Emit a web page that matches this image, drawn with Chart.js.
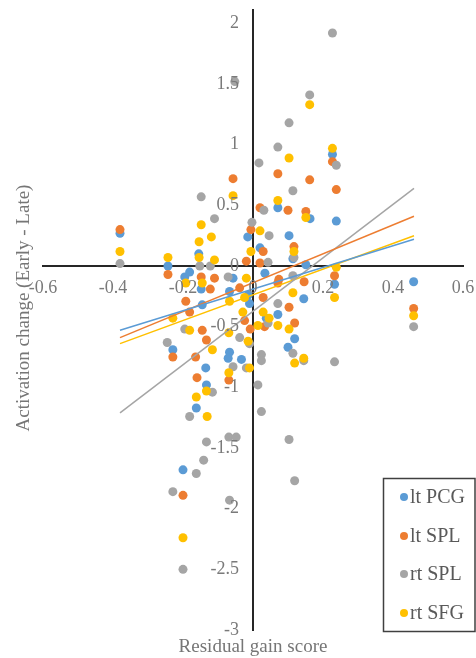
<!DOCTYPE html>
<html>
<head>
<meta charset="utf-8">
<script src="https://cdn.jsdelivr.net/npm/chart.js@4/dist/chart.umd.min.js"></script>
<style>
  html, body { margin: 0; padding: 0; background: #fff; }
  #wrap { position: relative; width: 476px; height: 658px; }
</style>
</head>
<body>
<div id="wrap"><canvas id="chart" width="476" height="658"></canvas></div>
<script>
// series labels
const seriesNames = ["lt PCG", "lt SPL", "rt SPL", "rt SFG"];
const seriesColors = ["#5B9BD5", "#ED7D31", "#A5A5A5", "#FFC000"];

// [residual gain score, activation change]
const ltPCG = [
  [-0.38, 0.27], [-0.243, 0.0], [-0.195, -0.09], [-0.181, -0.05], [-0.155, 0.10],
  [-0.148, -0.19], [-0.145, -0.32], [-0.229, -0.69], [-0.135, -0.84], [-0.133, -0.98],
  [-0.162, -1.17], [-0.2, -1.68], [-0.067, -0.21], [-0.067, -0.71], [-0.071, -0.76],
  [-0.033, -0.77], [-0.057, -0.10], [-0.015, 0.24], [-0.014, -0.24], [-0.01, -0.31],
  [0.02, 0.15], [0.034, -0.06], [0.038, -0.43], [0.071, 0.48], [0.071, -0.40],
  [0.103, 0.25], [0.10, -0.67], [0.119, -0.60], [0.114, 0.06], [0.145, -0.27],
  [0.151, 0.01], [0.163, 0.39], [0.227, 0.92], [0.238, 0.37], [0.233, -0.15],
  [0.459, -0.13]
];
const ltSPL = [
  [-0.38, 0.30], [-0.243, -0.07], [-0.229, -0.75], [-0.192, -0.29], [-0.181, -0.38],
  [-0.2, -1.89], [-0.164, -0.75], [-0.16, -0.92], [-0.148, -0.09], [-0.145, -0.53],
  [-0.133, -0.61], [-0.122, -0.19], [-0.11, -0.10], [-0.057, 0.72], [-0.069, -0.94],
  [-0.038, -0.18], [-0.019, 0.04], [-0.024, -0.45], [-0.008, -0.52], [0.02, 0.48],
  [-0.006, 0.30], [0.029, 0.12], [0.02, 0.025], [0.029, -0.26], [0.033, -0.50],
  [0.071, 0.76], [0.074, -0.11], [0.10, 0.46], [0.103, -0.34], [0.117, 0.16],
  [0.119, -0.47], [0.071, -0.14], [0.146, -0.13], [0.151, 0.45], [0.162, 0.71],
  [0.227, 0.86], [0.238, 0.63], [0.233, -0.08], [0.459, -0.35]
];
const rtSPL = [
  [-0.38, 0.02], [-0.245, -0.63], [-0.229, -1.86], [-0.2, -2.5], [-0.195, -0.52],
  [-0.181, -1.24], [-0.162, -1.71], [-0.148, 0.57], [-0.152, 0.0], [-0.141, -1.60],
  [-0.133, -1.45], [-0.122, 0.0], [-0.116, -1.04], [-0.11, 0.39], [-0.071, -0.09],
  [-0.069, -1.41], [-0.048, -1.41], [-0.067, -1.93], [-0.057, -0.83], [-0.019, -0.84],
  [-0.003, 0.36], [-0.038, -0.59], [-0.01, -0.64], [0.017, 0.85], [0.014, -0.98],
  [0.024, -0.73], [0.024, -0.78], [0.024, -1.20], [0.031, 0.46], [0.046, 0.25],
  [0.043, 0.03], [0.071, 0.98], [0.071, -0.31], [0.103, 1.18], [0.103, -1.43],
  [0.114, 0.62], [0.114, -0.08], [0.114, -0.72], [0.119, -1.77], [0.145, -0.78],
  [0.162, 1.41], [0.227, 1.92], [0.238, 0.83], [0.233, -0.79], [0.459, -0.50],
  [0.043, -0.47], [-0.052, 1.52], [0.117, 0.07]
];
const rtSFG = [
  [-0.38, 0.12], [-0.243, 0.07], [-0.229, -0.43], [-0.2, -2.24], [-0.192, -0.14],
  [-0.181, -0.53], [-0.154, 0.20], [-0.148, 0.34], [-0.154, 0.07], [-0.145, -0.14],
  [-0.162, -1.08], [-0.133, -1.03], [-0.131, -1.24], [-0.119, 0.24], [-0.11, 0.05],
  [-0.116, -0.69], [-0.057, 0.58], [-0.069, -0.88], [-0.069, -0.55], [-0.067, -0.29],
  [-0.019, -0.10], [-0.029, -0.38], [-0.024, -0.26], [-0.006, 0.12], [-0.01, -0.84],
  [-0.014, -0.62], [0.02, 0.29], [0.014, -0.49], [0.029, -0.38], [0.046, -0.43],
  [0.071, 0.54], [0.071, -0.49], [0.103, 0.89], [0.103, -0.52], [0.117, 0.12],
  [0.114, -0.22], [0.119, -0.80], [0.145, -0.76], [0.151, 0.40], [0.162, 1.33],
  [0.227, 0.97], [0.233, -0.26], [0.238, -0.01], [0.459, -0.41]
];

// linear trendline end points
const trendX = [-0.38, 0.46];
const trendLtPCG = [-0.53, 0.22];
const trendLtSPL = [-0.59, 0.41];
const trendRtSPL = [-1.21, 0.64];
const trendRtSFG = [-0.64, 0.25];

const xTicks = [-0.6, -0.4, -0.2, 0, 0.2, 0.4, 0.6];
const yTicks = [-3, -2.5, -2, -1.5, -1, -0.5, 0, 0.5, 1, 1.5, 2];

const xTitle = "Residual gain score";
const yTitle = "Activation change (Early - Late)";

const serif = '"Liberation Serif", "Times New Roman", serif';

function pts(arr) {
  return arr.map(p => ({ x: p[0], y: p[1] }));
}
function trend(ys) {
  return trendX.map((x, i) => ({ x: x, y: ys[i] }));
}
function fmt(v) {
  return String(Math.round(v * 10) / 10);
}

const pointSets = [ltPCG, ltSPL, rtSPL, rtSFG];
const trendSets = [trendLtPCG, trendLtSPL, trendRtSPL, trendRtSFG];

const datasets = [];
trendSets.forEach((t, i) => {
  datasets.push({
    label: seriesNames[i] + " trend",
    data: trend(t),
    showLine: true,
    borderColor: seriesColors[i],
    borderWidth: 1.5,
    pointRadius: 0,
    fill: false,
    order: 0
  });
});
pointSets.forEach((s, i) => {
  datasets.push({
    label: seriesNames[i],
    data: pts(s),
    backgroundColor: seriesColors[i],
    borderWidth: 0,
    pointRadius: 4.5,
    pointHoverRadius: 4.5,
    order: 4 - i
  });
});

// tick labels, axis titles and the boxed legend
const extras = {
  id: 'extras',
  afterDraw(chart) {
    const ctx = chart.ctx;
    const xs = chart.scales.x, ys = chart.scales.y;
    const x0 = xs.getPixelForValue(0), y0 = ys.getPixelForValue(0);
    ctx.save();
    ctx.fillStyle = '#7a7a7a';
    ctx.font = '18px ' + serif;
    ctx.textBaseline = 'middle';
    ctx.textAlign = 'center';
    xTicks.forEach(v => ctx.fillText(fmt(v), xs.getPixelForValue(v), y0 + 22));
    ctx.textAlign = 'right';
    yTicks.forEach(v => ctx.fillText(fmt(v), x0 - 14, ys.getPixelForValue(v)));

    ctx.fillStyle = '#767676';
    ctx.font = '19px ' + serif;
    ctx.textAlign = 'center';
    ctx.fillText(xTitle, 253, 647);
    ctx.translate(24, 308);
    ctx.rotate(-Math.PI / 2);
    ctx.fillText(yTitle, 0, 0);
    ctx.restore();

    ctx.save();
    ctx.strokeStyle = '#404040';
    ctx.lineWidth = 1.5;
    ctx.strokeRect(383.5, 478.5, 91.5, 153);
    const rows = [497, 536, 574, 613];
    ctx.font = '20px ' + serif;
    ctx.textAlign = 'left';
    ctx.textBaseline = 'middle';
    seriesNames.forEach((name, i) => {
      ctx.fillStyle = seriesColors[i];
      ctx.beginPath();
      ctx.arc(404, rows[i], 4, 0, Math.PI * 2);
      ctx.fill();
      ctx.fillStyle = '#595959';
      ctx.fillText(name, 410, rows[i] + 1);
    });
    ctx.restore();
  }
};

new Chart(document.getElementById('chart'), {
  type: 'scatter',
  data: { datasets: datasets },
  options: {
    responsive: false,
    animation: false,
    layout: { padding: { left: 43, right: 13, top: 10, bottom: 28 } },
    plugins: {
      legend: { display: false },
      tooltip: { enabled: false }
    },
    scales: {
      x: {
        type: 'linear',
        min: -0.6,
        max: 0.6,
        position: { y: 0 },
        afterFit(s) { s.height = 0; },
        afterBuildTicks(s) { s.ticks = xTicks.map(v => ({ value: v })); },
        grid: { drawOnChartArea: false, drawTicks: false },
        border: { color: '#262626', width: 2 },
        ticks: { display: false }
      },
      y: {
        type: 'linear',
        min: -3,
        max: 2.11,
        position: { x: 0 },
        afterFit(s) { s.width = 0; },
        afterBuildTicks(s) { s.ticks = yTicks.map(v => ({ value: v })); },
        grid: { drawOnChartArea: false, drawTicks: false },
        border: { color: '#262626', width: 2 },
        ticks: { display: false }
      }
    }
  },
  plugins: [extras]
});
</script>
</body>
</html>
